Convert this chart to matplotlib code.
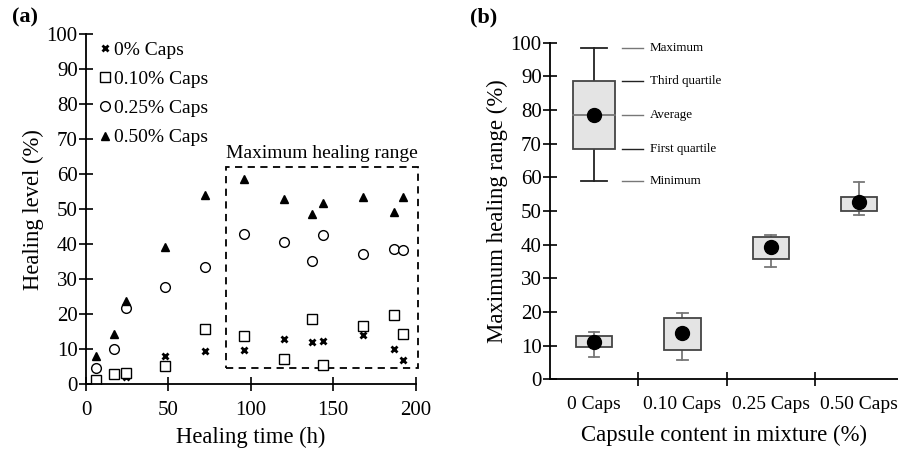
import matplotlib.pyplot as plt
from matplotlib.patches import Rectangle

plt.rcParams['font.family'] = ['Liberation Serif', 'DejaVu Serif']

# (a) healing level vs time
time_h = [6, 17, 24, 48, 72, 96, 120, 137, 144, 168, 187, 192]
caps_000 = [None, None, 2.2, 8.1, 9.5, 9.9, 13.0, 12.2, 12.5, 14.1, 10.1, 6.9]
caps_010 = [1.1, 3.0, 3.3, 5.2, 15.9, 13.7, 7.1, 18.7, 5.6, 16.8, 19.7, 14.3]
caps_025 = [4.6, 10.1, 21.9, 27.9, 33.4, 43.0, 40.8, 35.1, 42.6, 37.2, 38.6, 38.4]
caps_050 = [8.1, 14.3, 23.9, 39.1, 54.2, 58.6, 52.9, 48.8, 51.9, 53.4, 49.3, 53.4]
series_labels = ['0% Caps', '0.10% Caps', '0.25% Caps', '0.50% Caps']

# (b) box summary: max, q3, avg, q1, min
box_labels = ['0 Caps', '0.10 Caps', '0.25 Caps', '0.50 Caps']
box_max = [14.2, 19.8, 43.0, 58.5]
box_q3 = [12.8, 18.2, 42.3, 54.3]
box_avg = [11.2, 13.8, 39.4, 52.8]
box_q1 = [9.5, 8.8, 35.7, 50.1]
box_min = [6.7, 5.6, 33.5, 48.8]
key_stats = [98.3, 88.6, 78.5, 68.5, 59.0]
key_names = ['Maximum', 'Third quartile', 'Average', 'First quartile', 'Minimum']

fig = plt.figure(figsize=(8.98, 4.49), dpi=100)

# ---- panel (a)
ax = fig.add_axes([86 / 898, 1 - 384.3 / 449, 329.7 / 898, 350 / 449])
ax.set_xlim(0, 200)
ax.set_ylim(0, 100)
for s in ['top', 'right']:
    ax.spines[s].set_visible(False)

def pts(vals):
    xs = [t for t, v in zip(time_h, vals) if v is not None]
    ys = [v for v in vals if v is not None]
    return xs, ys

x0, y0 = pts(caps_000)
ax.plot(x0, y0, ls='none', marker='x', ms=5, mew=2, color='k', label=series_labels[0])
ax.plot(time_h, caps_010, ls='none', marker='s', ms=6.5, mfc='white', mec='k', mew=1, label=series_labels[1])
ax.plot(time_h, caps_025, ls='none', marker='o', ms=7, mfc='white', mec='k', mew=1, label=series_labels[2])
ax.plot(time_h, caps_050, ls='none', marker='^', ms=6, color='k', label=series_labels[3])

ax.add_patch(Rectangle((84.7, 4.6), 201.6 - 84.7, 62.2 - 4.6, fill=False, ls=(0, (4, 3)),
                       lw=1.3, ec='k', clip_on=False))
ax.text(143, 63.5, 'Maximum healing range', ha='center', va='bottom', fontsize=14)

ax.legend(loc='upper left', bbox_to_anchor=(0.0, 1.02), frameon=False, fontsize=14,
          handlelength=0.6, handletextpad=0.15, labelspacing=0.6, borderaxespad=0.3)

ax.set_xticks([0, 50, 100, 150, 200])
ax.set_yticks(range(0, 101, 10))
ax.tick_params(axis='both', direction='inout', length=10, width=1.2, labelsize=15)
ax.tick_params(axis='x', pad=7)
ax.tick_params(axis='y', pad=1)
ax.spines['left'].set_linewidth(1.3)
ax.spines['bottom'].set_linewidth(1.3)
ax.set_xlabel('Healing time (h)', fontsize=16.3, labelpad=5)
ax.set_ylabel('Healing level (%)', fontsize=16.3, labelpad=2)
fig.text(12 / 898, 1 - 22 / 449, '(a)', fontsize=16, fontweight='bold', va='baseline')

# ---- panel (b)
bx = fig.add_axes([550 / 898, 1 - 379.3 / 449, 348 / 898, 336.6 / 449])
bx.set_ylim(0, 100)
bx.set_xlim(0, 348 / 88.3)
for s in ['top', 'right']:
    bx.spines[s].set_visible(False)
bx.spines['left'].set_linewidth(1.3)
bx.spines['bottom'].set_linewidth(1.3)

pos = [0.5, 1.5, 2.5, 3.5]
w = 0.41
for p, mx, q3, av, q1, mn in zip(pos, box_max, box_q3, box_avg, box_q1, box_min):
    bx.add_patch(Rectangle((p - w / 2, q1), w, q3 - q1, fc='#e4e4e4', ec='#444444', lw=1.3, zorder=2))
    bx.plot([p, p], [q3, mx], color='#777777', lw=1.3, zorder=1)
    bx.plot([p, p], [mn, q1], color='#777777', lw=1.3, zorder=1)
    bx.plot([p - 0.06, p + 0.06], [mx, mx], color='#777777', lw=1.3)
    bx.plot([p - 0.06, p + 0.06], [mn, mn], color='#777777', lw=1.3)
    bx.plot(p, av, 'o', color='k', ms=10, zorder=3)

# explanation box
kmax, kq3, kavg, kq1, kmin = key_stats
kw = 0.483
p = 0.5
bx.add_patch(Rectangle((p - kw / 2, kq1), kw, kq3 - kq1, fc='#e4e4e4', ec='#444444', lw=1.3, zorder=2))
bx.plot([p - kw / 2, p + kw / 2], [kavg, kavg], color='#777777', lw=1.3, zorder=3)
bx.plot([p, p], [kq3, kmax], color='#222222', lw=1.3, zorder=1)
bx.plot([p, p], [kmin, kq1], color='#222222', lw=1.3, zorder=1)
bx.plot([p - 0.15, p + 0.15], [kmax, kmax], color='#222222', lw=1.3)
bx.plot([p - 0.15, p + 0.15], [kmin, kmin], color='#222222', lw=1.3)
bx.plot(p, kavg, 'o', color='k', ms=10, zorder=4)
key_colors = ['#777777', '#222222', '#777777', '#222222', '#777777']
for v, name, c in zip(key_stats, key_names, key_colors):
    bx.plot([0.82, 1.05], [v, v], color=c, lw=1)
    bx.text(1.13, v, name, fontsize=9.4, va='center', ha='left')

bx.set_xticks([1, 2, 3])
bx.set_xticklabels([])
for p, lab in zip(pos, box_labels):
    bx.text(p, -5.0, lab, ha='center', va='top', fontsize=14)
bx.set_yticks(range(0, 101, 10))
bx.tick_params(axis='both', direction='inout', length=10, width=1.2, labelsize=15)
bx.tick_params(axis='y', pad=1)
bx.set_xlabel('Capsule content in mixture (%)', fontsize=16.4, labelpad=24)
bx.set_ylabel('Maximum healing range (%)', fontsize=16.4, labelpad=2)
fig.text(470 / 898, 1 - 22 / 449, '(b)', fontsize=16, fontweight='bold', va='baseline')

fig.savefig('out.png', dpi=100)
